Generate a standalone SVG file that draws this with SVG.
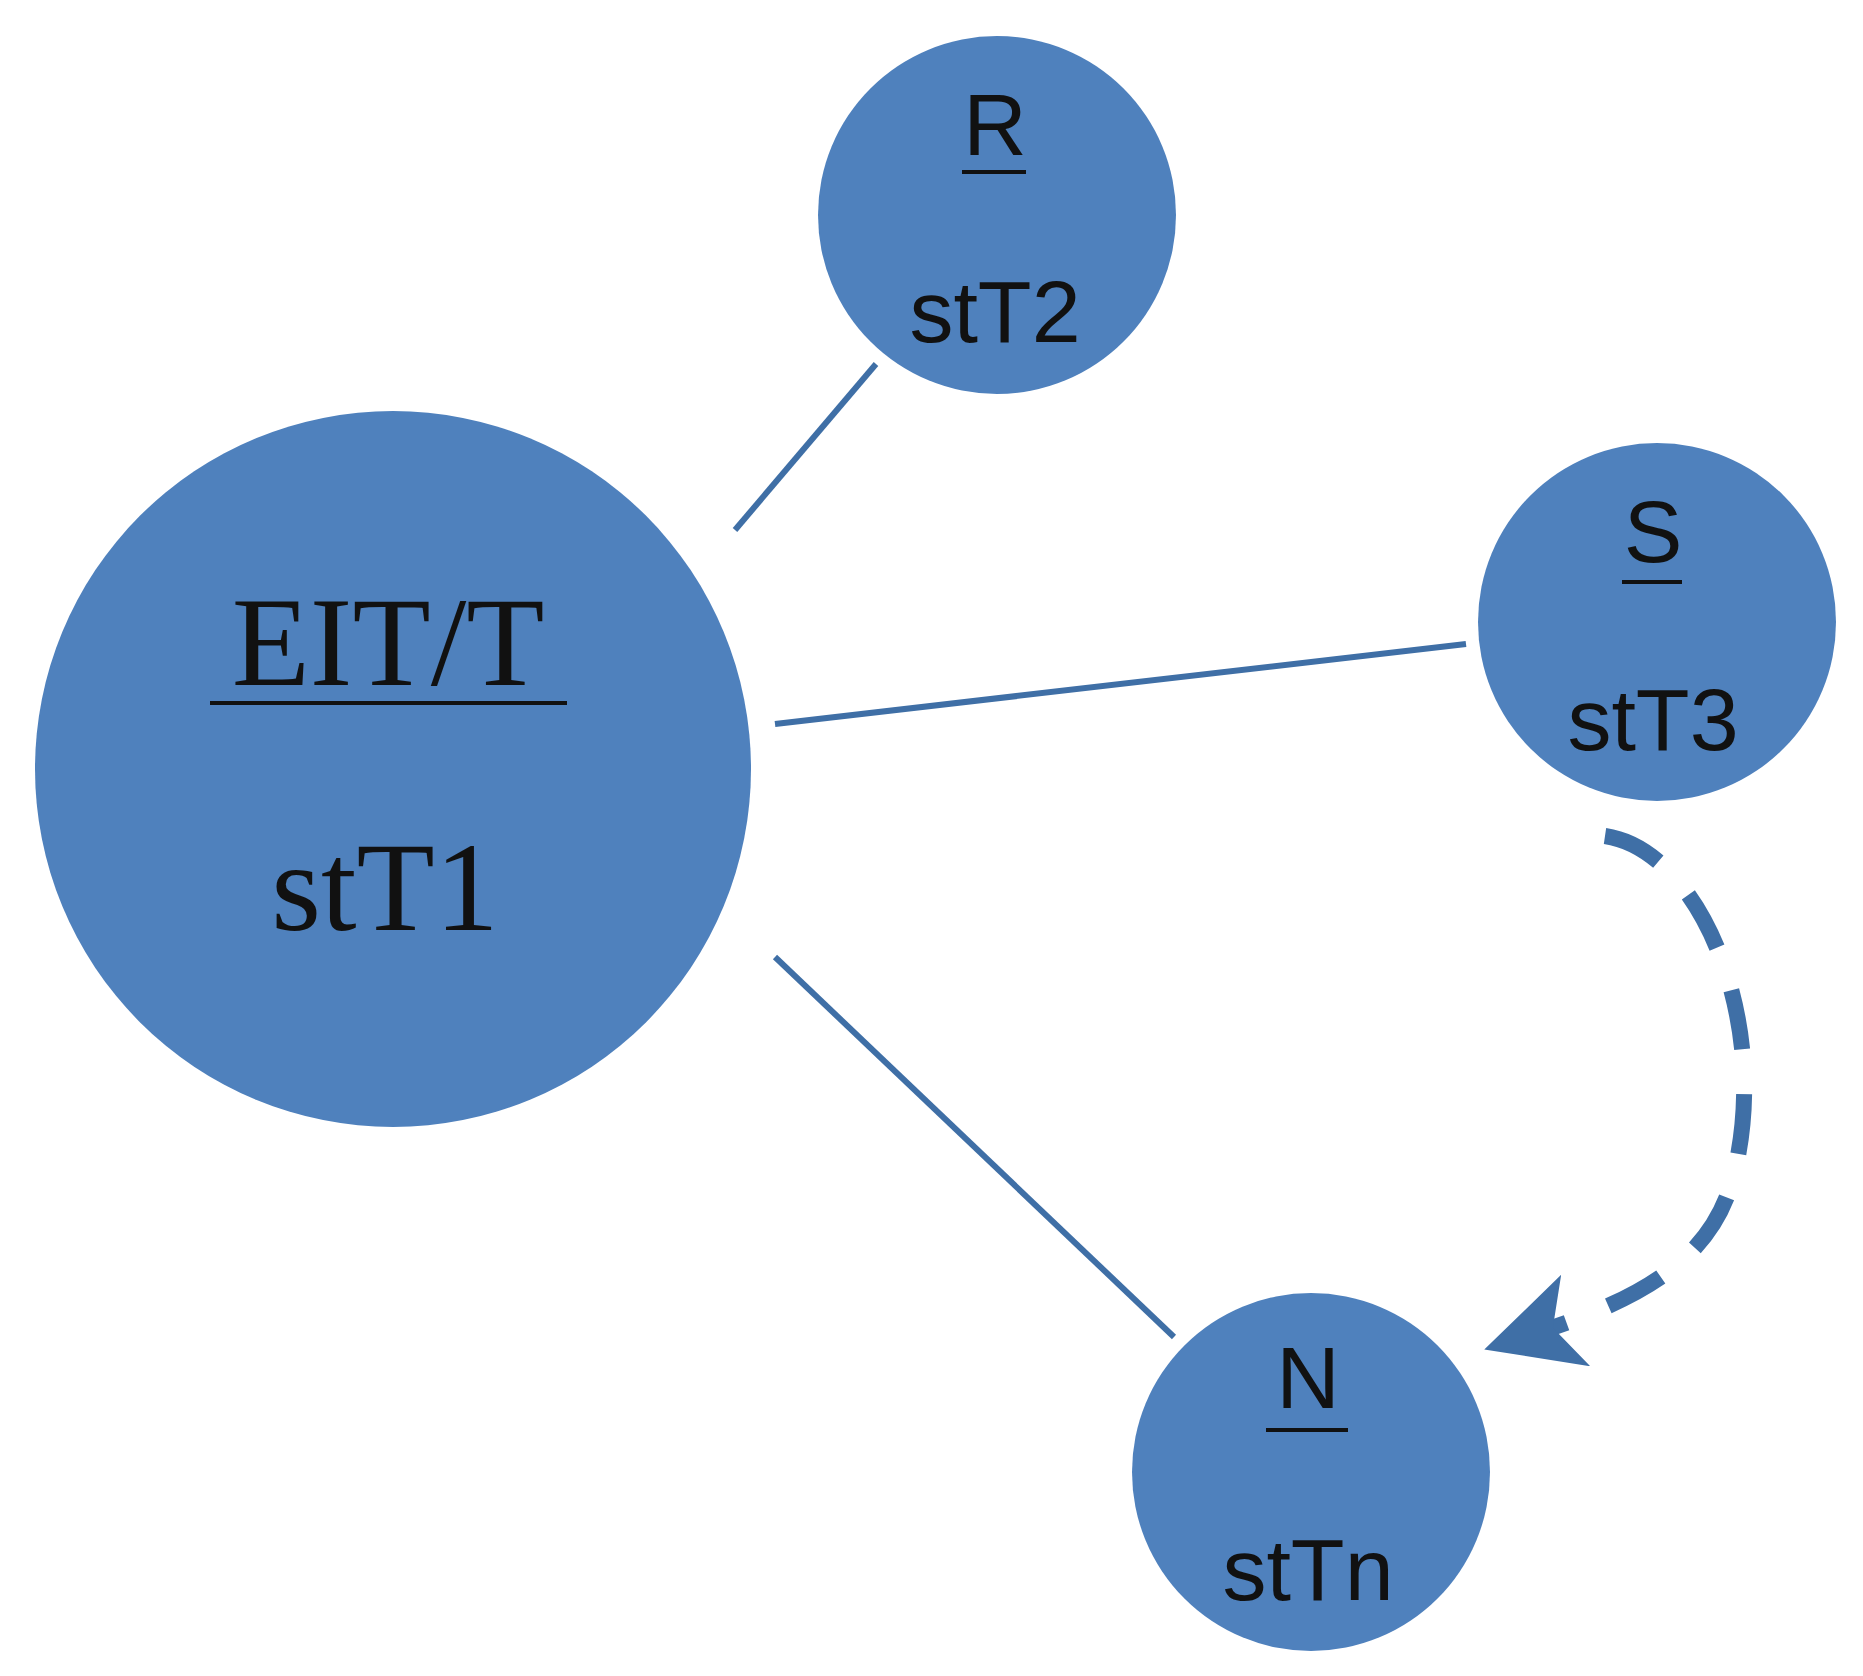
<svg xmlns="http://www.w3.org/2000/svg" width="1863" height="1676" viewBox="0 0 1863 1676">
<style>
.n{fill:#4f81bd}
.c{stroke:#3f6fa6;stroke-width:6;fill:none}
.s{font-family:"Liberation Sans",Arial,sans-serif;font-size:88px;fill:#111;text-anchor:middle}
.t{font-family:"Liberation Serif","Times New Roman",serif;font-size:128px;fill:#111;text-anchor:middle}
.u{stroke:#111;stroke-width:4}
</style>
<defs>
<marker id="ah" markerWidth="6" markerHeight="6" refX="3" refY="3" orient="auto" markerUnits="strokeWidth"><path d="M0,0 L6,3 L0,6 L1.5,3 z" fill="#3f6fa6"/></marker>
</defs>
<g id="connectors">
<line class="c" x1="735" y1="530" x2="876" y2="364"/>
<line class="c" x1="775" y1="724" x2="1466" y2="644"/>
<line class="c" x1="775" y1="957" x2="1174" y2="1337"/>
<path d="M1605,836 C1700,850 1770,1020 1735,1170 C1715,1260 1640,1300 1530,1335" stroke="#3f6fa6" stroke-width="16" fill="none" stroke-dasharray="60,45" marker-end="url(#ah)"/>
</g>
<g id="n1"><circle class="n" cx="393" cy="769" r="358"/>
<text class="t" x="388" y="685">EIT/T</text><line class="u" x1="210" y1="703" x2="567" y2="703"/>
<text class="t" x="385" y="930">stT1</text></g>
<g id="n2"><circle class="n" cx="997" cy="215" r="179"/>
<text class="s" x="995" y="155">R</text><line class="u" x1="962" y1="172" x2="1026" y2="172"/>
<text class="s" x="995" y="342">stT2</text></g>
<g id="n3"><circle class="n" cx="1657" cy="622" r="179"/>
<text class="s" x="1653" y="562">S</text><line class="u" x1="1622" y1="582" x2="1682" y2="582"/>
<text class="s" x="1653" y="750">stT3</text></g>
<g id="n4"><circle class="n" cx="1311" cy="1472" r="179"/>
<text class="s" x="1308" y="1408">N</text><line class="u" x1="1266" y1="1430" x2="1348" y2="1430"/>
<text class="s" x="1308" y="1600">stTn</text></g>
</svg>
